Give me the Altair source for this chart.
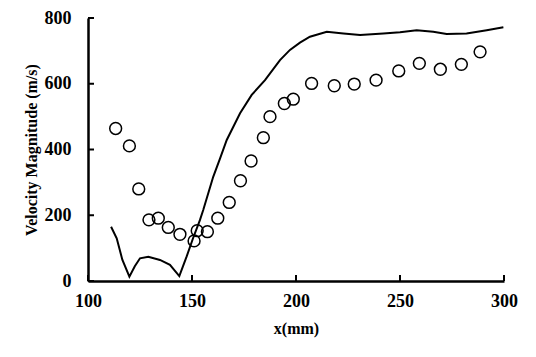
import altair as alt
import pandas as pd

# Simulation (line)
sim_x = [111.1, 113.8, 116.5, 119.9, 122.5, 125.0, 129.0, 134.6, 139.4, 143.9, 147.4,
         150.5, 153.8, 155.4, 160.2, 163.5, 166.7, 173.1, 178.7, 185.1, 192.3, 197.1,
         201.9, 206.7, 214.8, 222.8, 230.8, 242.0, 250.0, 258.0, 266.0, 272.4, 282.0,
         291.7, 299.7]
sim_v = [165, 130, 65, 13, 45, 69, 74, 64, 49, 15, 74,
         130, 185, 216, 317, 373, 429, 510, 566, 611, 672, 703,
         725, 743, 758, 753, 748, 753, 757, 763, 758, 751, 753,
         763, 772]

# Experiment (circles)
exp_x = [113.3, 119.9, 124.4, 129.3, 133.8, 138.6, 144.2, 151.0, 152.5, 157.4, 162.4,
         167.9, 173.3, 178.4, 184.3, 187.5, 194.4, 198.7, 207.5, 218.4, 228.0, 238.5,
         249.4, 259.3, 269.4, 279.5, 288.5]
exp_v = [464, 411, 280, 186, 191, 163, 142, 122, 153, 150, 191,
         239, 305, 365, 436, 500, 540, 553, 601, 594, 599, 611,
         639, 662, 644, 659, 697]

x_ticks = [100, 150, 200, 250, 300]
y_ticks = [0, 200, 400, 600, 800]

sim = pd.DataFrame({"x": sim_x, "v": sim_v})
exp = pd.DataFrame({"x": exp_x, "v": exp_v})
yt = pd.DataFrame({"v": y_ticks})
xt = pd.DataFrame({"x": x_ticks})

FONT = "Liberation Serif"
W, H = 416, 263

xscale = alt.Scale(domain=[100, 300], nice=False, zero=False)
yscale = alt.Scale(domain=[0, 800], nice=False)

xaxis = alt.Axis(values=x_ticks, title="x(mm)", ticks=False,
                 labelPadding=11, labelFlush=False, titlePadding=10,
                 domain=True, domainColor="#000000", domainWidth=2.5, domainOpacity=1)
yaxis = alt.Axis(values=y_ticks, title="Velocity Magnitude (m/s)",
                 ticks=False, labelPadding=17, labelFlush=False, titlePadding=5,
                 domain=True, domainColor="#000000", domainWidth=2.5, domainOpacity=1)

line = alt.Chart(sim).mark_line(color="black", strokeWidth=2).encode(
    x=alt.X("x:Q", scale=xscale, axis=xaxis),
    y=alt.Y("v:Q", scale=yscale, axis=yaxis),
)

pts = alt.Chart(exp).mark_point(shape="circle", filled=False, color="black",
                                 size=140, strokeWidth=1.5, opacity=1).encode(
    x=alt.X("x:Q", scale=xscale, axis=xaxis),
    y=alt.Y("v:Q", scale=yscale, axis=yaxis),
)

# inward tick marks as short line symbols
ytick_marks = alt.Chart(yt).mark_point(shape="M0,0L2,0", size=36, color="black",
                                       strokeWidth=2, filled=False, opacity=1).encode(
    y=alt.Y("v:Q", scale=yscale, axis=yaxis),
    x=alt.value(0),
)
xtick_marks = alt.Chart(xt).mark_point(shape="M0,0L0,-2", size=36, color="black",
                                       strokeWidth=2, filled=False, opacity=1).encode(
    x=alt.X("x:Q", scale=xscale, axis=xaxis),
    y=alt.value(H),
)

chart = alt.layer(line, pts, ytick_marks, xtick_marks).properties(
    width=W, height=H,
    autosize=alt.AutoSizeParams(type="none"),
    padding={"left": 88, "top": 18, "right": 32, "bottom": 76},
    background="white",
).configure_view(
    stroke="white"
).configure_axis(
    grid=False,
    labelColor="black",
    titleColor="black",
    labelFont=FONT,
    labelFontSize=18,
    labelFontWeight="bold",
    titleFont=FONT,
    titleFontSize=16,
    titleFontWeight="bold",
)

chart.save("out.html", embed_options={"renderer": "svg", "actions": False})
